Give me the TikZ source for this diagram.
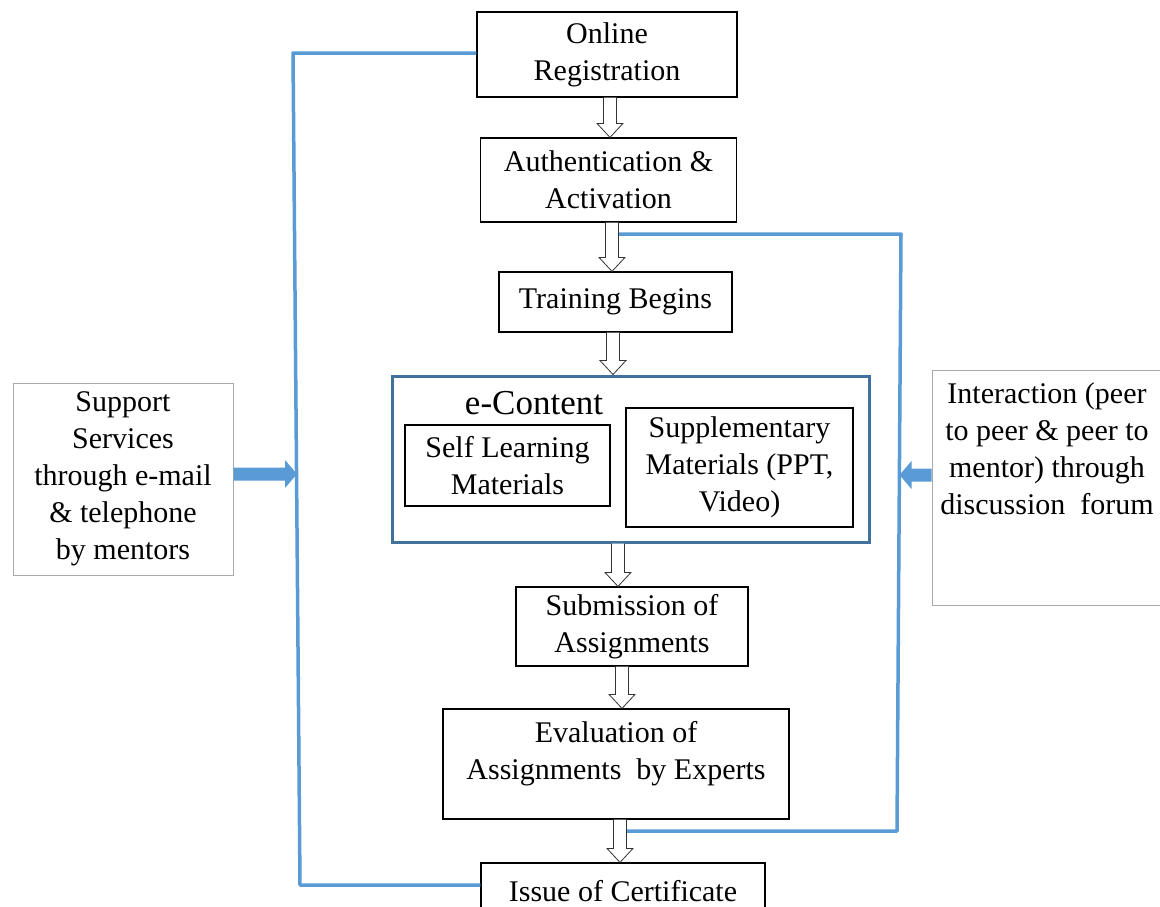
\documentclass[tikz,border=0pt]{standalone}
\usepackage{fontspec}
\setmainfont{Liberation Serif}
\usetikzlibrary{calc}
\definecolor{lineblue}{HTML}{5B9BD5}
\definecolor{frameblue}{HTML}{41719C}
\definecolor{sidegray}{HTML}{A9A9A9}
\begin{document}
\begin{tikzpicture}[x=1pt,y=-1pt,
  every node/.style={font=\fontsize{30}{37}\selectfont, align=center, inner sep=0pt},
  flowbox/.style={draw=black, line width=1.2pt, fill=white},
  sidebox/.style={draw=sidegray, line width=1pt},
  blueline/.style={draw=lineblue, line width=3.5pt, line join=round},
  blockarrow/.style={draw=black!80, fill=white, line width=0.8pt,
    to path={let \p1=(\tikztostart), \p2=(\tikztotarget) in
      (\x1-6.5pt,\y1) -- (\x1-6.5pt,\y2+14pt) -- (\x1-13pt,\y2+14pt) -- (\x1,\y2)
      -- (\x1+13pt,\y2+14pt) -- (\x1+6.5pt,\y2+14pt) -- (\x1+6.5pt,\y1)}},
  fatarrow/.style={fill=lineblue, draw=none,
    to path={let \p1=(\tikztostart), \p2=(\tikztotarget), \n1={ifthenelse(\x2>\x1,1,-1)} in
      (\x1,\y1+6.5pt) -- (\x2-\n1*12pt,\y1+6.5pt) -- (\x2-\n1*12pt,\y1+14pt) -- (\x2,\y1)
      -- (\x2-\n1*12pt,\y1-14pt) -- (\x2-\n1*12pt,\y1-6.5pt) -- (\x1,\y1-6.5pt) -- cycle}}
]
\useasboundingbox[fill=white] (0,0) rectangle (1160,906);

% blue feedback lines (coordinates)
\coordinate (ltop) at (293,53);
\coordinate (lbot) at (300,885);
\coordinate (ltip) at (297,474);
\coordinate (rstart) at (618.5,234);
\coordinate (rtop) at (901,234);
\coordinate (rbot) at (897,831);
\coordinate (rend) at (626.5,831);
\coordinate (rtip) at (899.5,475);

% main flow boxes
\node[flowbox, minimum width=260, minimum height=85] (online) at (607,54.5) {Online\\Registration};
\node[flowbox, minimum width=256, minimum height=84] (auth) at (608.5,180) {Authentication \&\\Activation};
\node[flowbox, minimum width=233, minimum height=60] (train) at (615.5,302) {Training Begins};
\node[draw=frameblue, line width=3pt, minimum width=477, minimum height=166] (econtent) at (630.5,459) {};
\node[font=\fontsize{35}{40}\selectfont] (eclabel) at (534,403) {e-Content};
\node[flowbox, minimum width=205, minimum height=81] (self) at (507.5,465.5) {Self Learning\\Materials};
\node[flowbox, minimum width=227, minimum height=119] (supp) at (739.5,467.5) {Supplementary\\Materials (PPT,\\Video)};
\node[flowbox, minimum width=232, minimum height=79] (subm) at (632,626.5) {Submission of\\Assignments};
\node[flowbox, minimum width=346, minimum height=110] (eval) at (616,764) {};
\node (evaltext) at (616,754) {Evaluation of\\Assignments\ \ by Experts};
\node[flowbox, minimum width=284, minimum height=56] (issue) at (623,891) {Issue of Certificate};

% side boxes
\node[sidebox, minimum width=220, minimum height=192] (support) at (123,479) {Support\\Services\\through e-mail\\\& telephone\\by mentors};
\node[sidebox, minimum width=234, minimum height=235] (inter) at (1049,487.5) {};
\node (intertext) at (1047,449) {Interaction (peer\\to peer \& peer to\\mentor) through\\discussion\ \ forum};

% blue lines
\draw[blueline] (online.west |- ltop) -- (ltop) -- (lbot) -- (issue.west |- lbot);
\draw[blueline] (rstart) -- (rtop) -- (rbot) -- (rend);

% block arrows of the flow
\draw[blockarrow] ([xshift=3pt]online.south) to (auth.north);
\draw[blockarrow] ([xshift=3.5pt]auth.south) to (train.north);
\draw[blockarrow] ([xshift=-2.5pt]train.south) to (econtent.north);
\draw[blockarrow] ([xshift=-12.5pt]econtent.south) to (subm.north);
\draw[blockarrow] ([xshift=-10pt]subm.south) to (eval.north);
\draw[blockarrow] ([xshift=4pt]eval.south) to (issue.north);

% side arrows
\draw[fatarrow] ([yshift=5pt]support.east) to (ltip);
\draw[fatarrow] ([yshift=12.5pt]inter.west) to (rtip);
\end{tikzpicture}
\end{document}
